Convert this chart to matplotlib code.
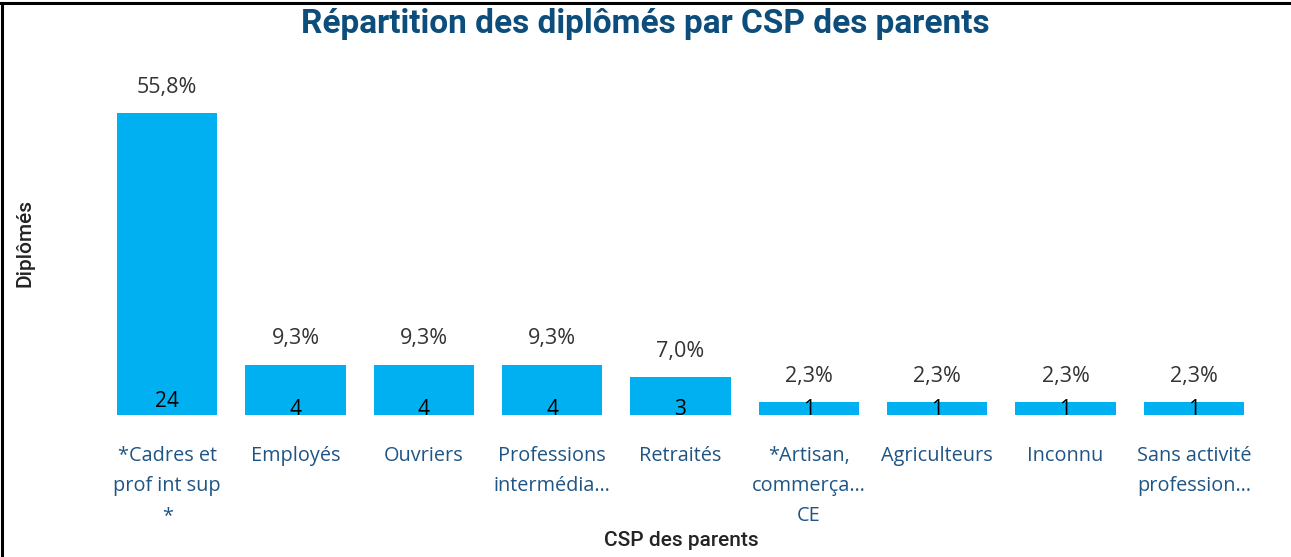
import matplotlib
matplotlib.use("Agg")
import matplotlib.pyplot as plt
from matplotlib.lines import Line2D

# data
categories = ["*Cadres et\nprof int sup\n*", "Employés", "Ouvriers",
              "Professions\nintermédia…", "Retraités",
              "*Artisan,\ncommerça…\nCE", "Agriculteurs", "Inconnu",
              "Sans activité\nprofession…"]
counts = [24, 4, 4, 4, 3, 1, 1, 1, 1]

total = sum(counts)
pcts = [c / total * 100 for c in counts]

BAR = "#01B0F0"
TICK = "#1F5585"
TITLE = "#0D4D7B"

fig = plt.figure(figsize=(12.91, 5.57), dpi=100)
ax = fig.add_axes([103 / 1291, 1 - 415 / 557, (1258 - 103) / 1291, 302 / 557])

x = list(range(len(categories)))
ax.bar(x, counts, width=100 / 128.3, color=BAR)
ax.set_xlim(-0.5, len(categories) - 0.5)
ax.set_ylim(0, max(counts))

for xi, c, p in zip(x, counts, pcts):
    # percentage above bar
    ax.annotate(f"{p:.1f}%".replace(".", ","), (xi, c), xytext=(0, 11),
                textcoords="offset points", ha="center", va="bottom",
                fontsize=15.5, color="#333333", family="Open Sans",
                annotation_clip=False)
    # count inside base
    pad = 6 if c >= 10 else 0
    ax.annotate(str(c), (xi, 0), xytext=(0, pad), textcoords="offset points",
                ha="center", va="baseline", fontsize=15, color="black",
                family="Open Sans", annotation_clip=False)

ax.set_xticks(x)
ax.set_xticklabels(categories, fontsize=14.3, color=TICK, family="Open Sans",
                   linespacing=1.68, va="top")
ax.tick_params(axis="x", length=0, pad=22)
ax.set_yticks([])
for s in ax.spines.values():
    s.set_visible(False)

fig.text(0.5, 1 - 24 / 557, "Répartition des diplômés par CSP des parents",
         ha="center", va="center", fontsize=24, fontweight="bold",
         color=TITLE, family="Roboto")
fig.text(681 / 1291, 1 - 541 / 557, "CSP des parents", ha="center",
         va="center", fontsize=15, color="#252423", family="Roboto",
         fontweight="medium")
fig.text(25 / 1291, 1 - 243 / 557, "Diplômés", ha="center", va="center",
         rotation=90, fontsize=15, color="#252423", family="Roboto",
         fontweight="medium")

# frame lines top and left
fig.add_artist(Line2D([0, 1], [1 - 2.5 / 557] * 2, color="black", lw=2.2,
                      transform=fig.transFigure))
fig.add_artist(Line2D([2 / 1291] * 2, [0, 1 - 2.5 / 557], color="black",
                      lw=2.2, transform=fig.transFigure))

fig.savefig("out.png", dpi=100)
